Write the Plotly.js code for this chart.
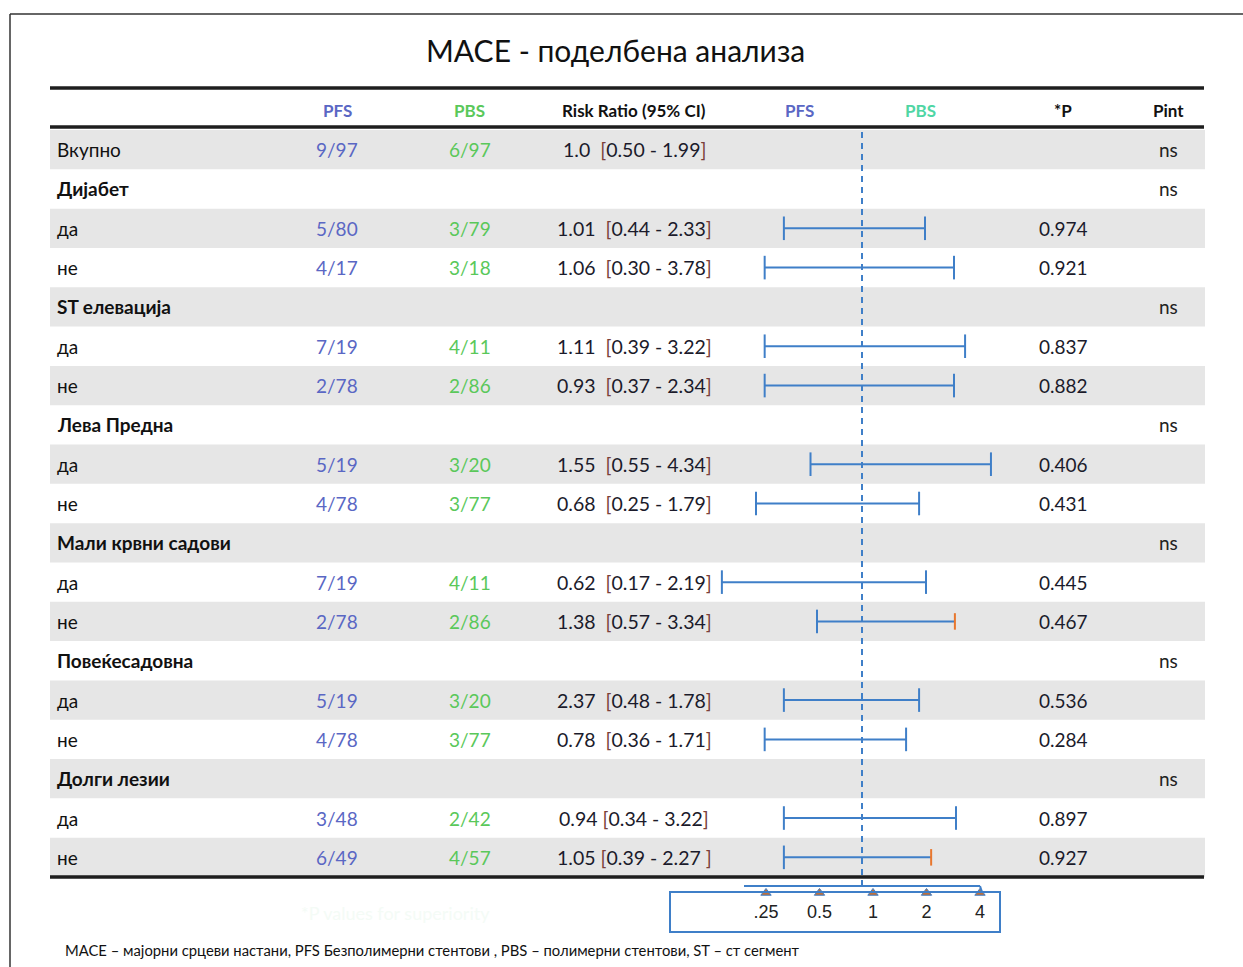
<!DOCTYPE html>
<html><head><meta charset="utf-8">
<script src="https://cdn.plot.ly/plotly-3.0.1.min.js"></script>
<style>html,body{margin:0;padding:0;background:#fff}#chart{width:1243px;height:967px}</style>
</head><body><div id="chart"></div>
<script>
// ---------------- data ----------------
const titleText = 'MACE - поделбена анализа';
const headers = ['PFS', 'PBS', 'Risk Ratio (95% CI)', 'PFS', 'PBS', '*P', 'Pint'];
const rowLabels = ['Вкупно','Дијабет','да','не','ST елевација','да','не','Лева Предна','да','не',
  'Мали крвни садови','да','не','Повеќесадовна','да','не','Долги лезии','да','не'];
const pfsCounts = ['9/97','','5/80','4/17','','7/19','2/78','','5/19','4/78','','7/19','2/78','','5/19','4/78','','3/48','6/49'];
const pbsCounts = ['6/97','','3/79','3/18','','4/11','2/86','','3/20','3/77','','4/11','2/86','','3/20','3/77','','2/42','4/57'];
const riskRatio = ['1.0','','1.01','1.06','','1.11','0.93','','1.55','0.68','','0.62','1.38','','2.37','0.78','','0.94','1.05'];
const ciLowText = ['0.50','','0.44','0.30','','0.39','0.37','','0.55','0.25','','0.17','0.57','','0.48','0.36','','0.34','0.39'];
const ciHighText = ['1.99','','2.33','3.78','','3.22','2.34','','4.34','1.79','','2.19','3.34','','1.78','1.71','','3.22','2.27'];
const pValues = ['','','0.974','0.921','','0.837','0.882','','0.406','0.431','','0.445','0.467','','0.536','0.284','','0.897','0.927'];
const pInt = ['ns','ns','','','ns','','','ns','','','ns','','','ns','','','ns','',''];
// interval ends as drawn in the picture (read on its log axis)
const barLow  = [null,null,0.36,0.28,null,0.28,0.28,null,0.51,0.25,null,0.16,0.555,null,0.36,0.28,null,0.36,0.36];
const barHigh = [null,null,2.28,3.33,null,3.85,3.33,null,5.4,2.11,null,2.31,3.37,null,2.11,1.78,null,3.42,2.47];
const tickValues = [0.25, 0.5, 1, 2, 4];
const tickLabels = ['.25', '0.5', '1', '2', '4'];
const refValue = 1;
const footnote = 'MACE – мајорни срцеви настани, PFS Безполимерни стентови , PBS – полимерни стентови, ST – ст сегмент';
const faintNote = '*P values for superiority';

// ---------------- layout helpers ----------------
const W = 1243, H = 967;
const px = x => x / W, py = y => 1 - y / H;
const FONT = 'Lato, "Open Sans", sans-serif';
const BLUE = '#3f7fc8', ORANGE = '#e8772e';
const orangeCapRows = [12, 18];
const capHalf = 0.3;
const FS = 19;
const n = rowLabels.length;

const shapes = [];
const annotations = [];

// grey bands
for (let i = 0; i < n; i += 2) {
  shapes.push({type:'rect', xref:'paper', yref:'y', x0:px(50), x1:px(1205), y0:i-0.5, y1:i+0.5,
    fillcolor:'#e6e6e6', line:{width:0}, layer:'below'});
}
// frame
shapes.push({type:'line', xref:'paper', yref:'paper', x0:px(10), x1:px(1243), y0:py(14), y1:py(14), line:{color:'#333', width:1.5}});
shapes.push({type:'line', xref:'paper', yref:'paper', x0:px(10), x1:px(10), y0:py(14), y1:py(967), line:{color:'#333', width:1.5}});
// thick rules
[88, 127, 877].forEach(y => shapes.push({type:'line', xref:'paper', yref:'paper', x0:px(50), x1:px(1204), y0:py(y), y1:py(y), line:{color:'#1e1e1e', width:3.5}}));
// bottom axis line & box
shapes.push({type:'line', xref:'paper', yref:'paper', x0:px(744), x1:px(980), y0:py(886), y1:py(886), line:{color:BLUE, width:2}});
shapes.push({type:'line', xref:'paper', yref:'paper', x0:px(980), x1:px(982), y0:py(886), y1:py(892), line:{color:BLUE, width:2}});
shapes.push({type:'rect', xref:'paper', yref:'paper', x0:px(670), x1:px(1000), y0:py(932), y1:py(892), line:{color:BLUE, width:2}, fillcolor:'rgba(0,0,0,0)'});

// title
annotations.push({text:titleText, xref:'paper', yref:'paper', x:px(615), y:py(50), showarrow:false,
  font:{family:FONT, size:30, color:'#111'}, xanchor:'center', yanchor:'middle'});
// headers
const headerX = [337, 470, 634, 799, 920, 1063, 1168];
const headerC = ['#5a67c4', '#5ac85a', '#111', '#5a67c4', '#4fd6a4', '#111', '#111'];
headers.forEach((h, k) => annotations.push({text:'<b>'+h+'</b>', xref:'paper', yref:'paper', x:px(headerX[k]), y:py(110),
  showarrow:false, xanchor:'center', yanchor:'middle', font:{family:FONT, size:17, color:headerC[k]}}));

const br = s => '<span style="color:#7a3f3a">' + s + '</span>';
for (let i = 0; i < n; i++) {
  const group = pfsCounts[i] === '' && i > 0;
  annotations.push({text: group ? '<b>'+rowLabels[i]+'</b>' : rowLabels[i], xref:'paper', yref:'y', x:px(55), y:i,
    showarrow:false, xanchor:'left', yanchor:'middle', font:{family:FONT, size:FS, color:'#111'}});
  if (pfsCounts[i]) annotations.push({text:pfsCounts[i], xref:'paper', yref:'y', x:px(337), y:i, showarrow:false,
    xanchor:'center', yanchor:'middle', font:{family:FONT, size:FS, color:'#5a67c4'}});
  if (pbsCounts[i]) annotations.push({text:pbsCounts[i], xref:'paper', yref:'y', x:px(470), y:i, showarrow:false,
    xanchor:'center', yanchor:'middle', font:{family:FONT, size:FS, color:'#5ac85a'}});
  if (riskRatio[i]) {
    const gap = i >= 17 ? '\u00a0' : '\u00a0\u00a0';
    const close = i === 18 ? '\u00a0' + br(']') : br(']');
    annotations.push({text: riskRatio[i] + gap + br('[') + ciLowText[i] + ' - ' + ciHighText[i] + close,
      xref:'paper', yref:'y', x:px(634), y:i, showarrow:false, xanchor:'center', yanchor:'middle',
      font:{family:FONT, size:19.5, color:'#1b1b2b'}});
  }
  if (pValues[i]) annotations.push({text:pValues[i], xref:'paper', yref:'y', x:px(1037), y:i, showarrow:false,
    xanchor:'left', yanchor:'middle', font:{family:FONT, size:FS, color:'#1b1b2b'}});
  if (pInt[i]) annotations.push({text:pInt[i], xref:'paper', yref:'y', x:px(1168), y:i, showarrow:false,
    xanchor:'center', yanchor:'middle', font:{family:FONT, size:FS, color:'#222'}});
}
// footnotes
annotations.push({text:footnote, xref:'paper', yref:'paper', x:px(63), y:py(950), showarrow:false,
  xanchor:'left', yanchor:'middle', font:{family:FONT, size:14.8, color:'#111'}});
annotations.push({text:faintNote, xref:'paper', yref:'paper', x:px(395), y:py(913), showarrow:false,
  xanchor:'center', yanchor:'middle', font:{family:FONT, size:18, color:'#f4fbf6'}});

// ---------------- traces ----------------
const lx = [], ly = [], cx = [], cy = [], ox = [], oy = [];
for (let i = 0; i < n; i++) {
  if (barLow[i] == null) continue;
  lx.push(barLow[i], barHigh[i], null); ly.push(i, i, null);
  cx.push(barLow[i], barLow[i], null); cy.push(i - capHalf, i + capHalf, null);
  if (orangeCapRows.includes(i)) { ox.push(barHigh[i], barHigh[i], null); oy.push(i - capHalf*0.7, i + capHalf*0.7, null); }
  else { cx.push(barHigh[i], barHigh[i], null); cy.push(i - capHalf, i + capHalf, null); }
}
const traces = [
  {x:[refValue, refValue], y:[0, 1], xaxis:'x', yaxis:'y3', mode:'lines', line:{color:BLUE, width:2, dash:'6px,5px'}, hoverinfo:'skip'},
  {x:lx, y:ly, xaxis:'x', yaxis:'y', mode:'lines', line:{color:BLUE, width:2}, hoverinfo:'skip'},
  {x:cx, y:cy, xaxis:'x', yaxis:'y', mode:'lines', line:{color:BLUE, width:2}, hoverinfo:'skip'},
  {x:ox, y:oy, xaxis:'x', yaxis:'y', mode:'lines', line:{color:ORANGE, width:2}, hoverinfo:'skip'},
  {x:tickValues, y:tickValues.map(() => 0.764), xaxis:'x2', yaxis:'y2', mode:'markers',
    marker:{symbol:'triangle-up', size:9, color:'#c0703a', line:{color:BLUE, width:1}}, hoverinfo:'skip', cliponaxis:false},
  {x:tickValues, y:tickValues.map(() => 0.4), xaxis:'x2', yaxis:'y2', mode:'text', text:tickLabels,
    textfont:{family:'"Liberation Sans", Arial, sans-serif', size:18, color:'#222'}, hoverinfo:'skip', cliponaxis:false}
];

const hidden = {visible:false, showgrid:false, zeroline:false, fixedrange:true};
const layout = {
  width:W, height:H, margin:{l:0, r:0, t:0, b:0}, paper_bgcolor:'#fff', plot_bgcolor:'rgba(0,0,0,0)',
  showlegend:false,
  xaxis: Object.assign({type:'log', domain:[px(700), px(1020)], range:[-0.92014, 0.89742], anchor:'y'}, hidden),
  yaxis: Object.assign({domain:[py(877), py(130)], range:[n - 0.5, -0.5], anchor:'x'}, hidden),
  yaxis3: Object.assign({domain:[py(886), py(130)], range:[0, 1], anchor:'x'}, hidden),
  xaxis2: Object.assign({type:'log', domain:[px(670), px(1000)], range:[-1.14225, 0.71461], anchor:'y2'}, hidden),
  yaxis2: Object.assign({domain:[py(935), py(880)], range:[0, 1], anchor:'x2'}, hidden),
  shapes: shapes, annotations: annotations
};
Plotly.newPlot('chart', traces, layout, {displayModeBar:false, staticPlot:true});
</script></body></html>
